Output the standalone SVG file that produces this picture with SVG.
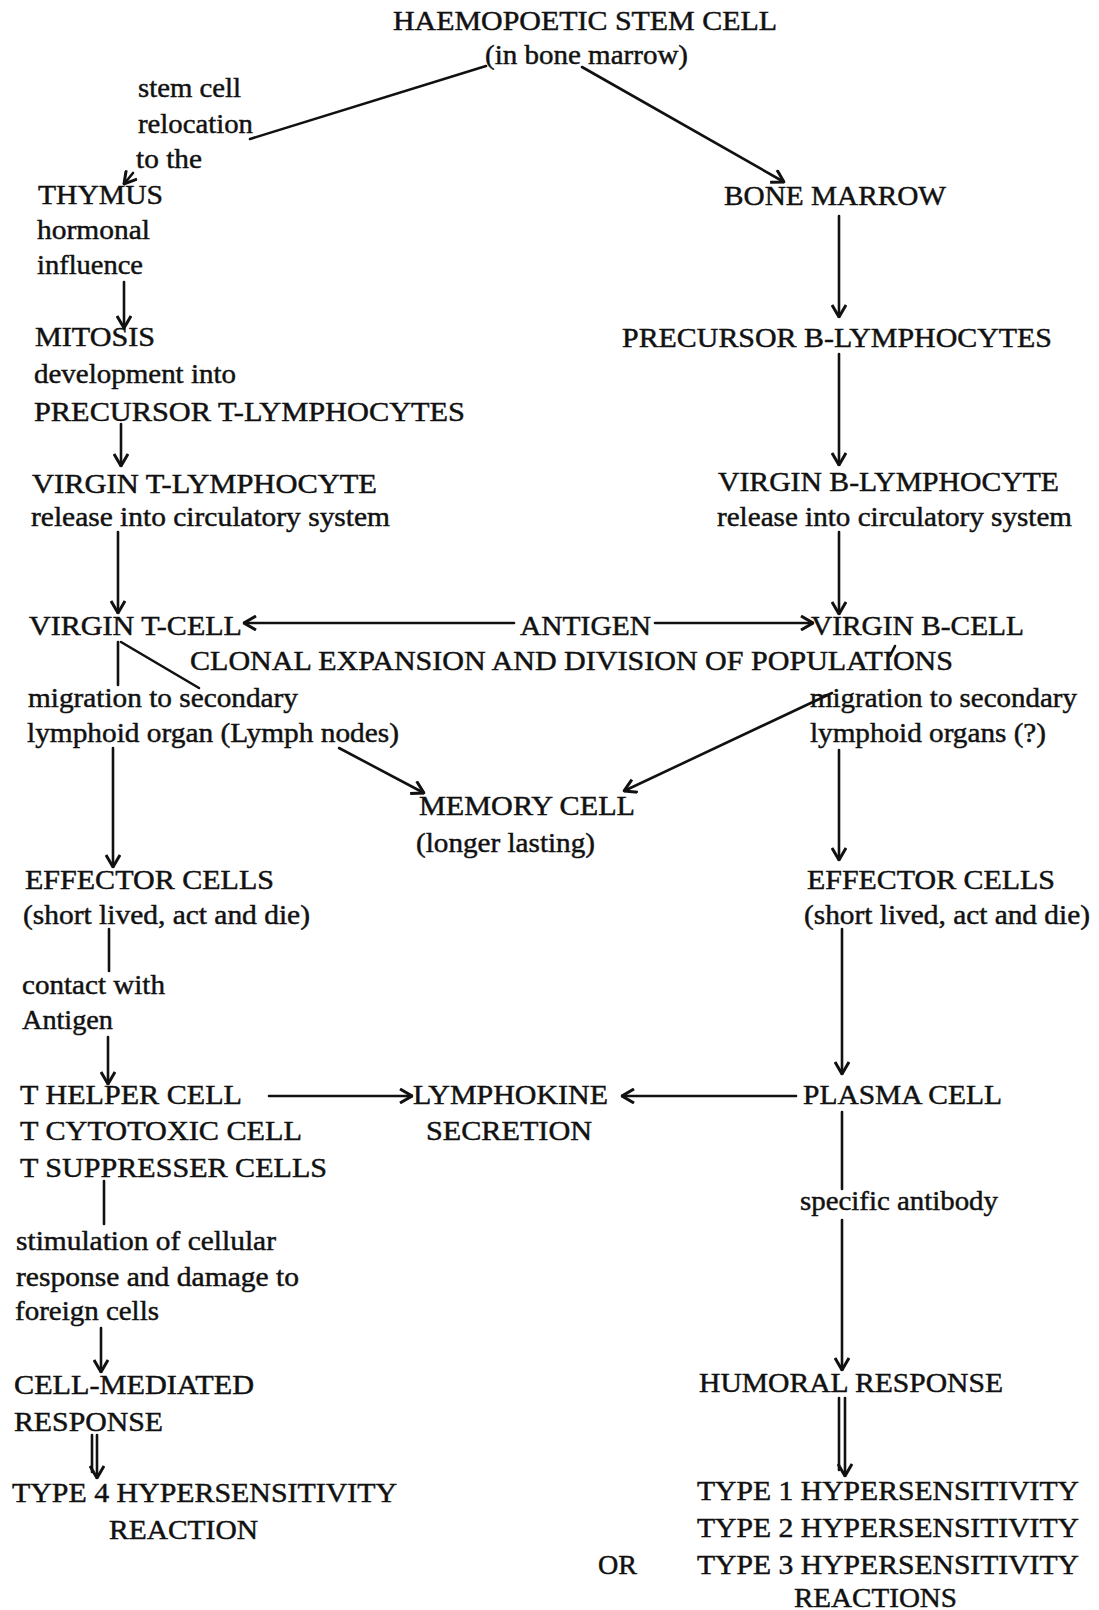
<svg xmlns="http://www.w3.org/2000/svg" width="1099" height="1610" viewBox="0 0 1099 1610">
<style>
text{font-family:"Liberation Serif","Times New Roman",serif;font-size:27px;fill:#111;stroke:#111;stroke-width:0.45}
.c{fill:none;stroke:#111;stroke-width:2.6;stroke-linecap:round}
.a{marker-end:url(#ah)}
</style>
<defs>
<marker id="ah" viewBox="0 0 14 16" refX="13" refY="8" markerWidth="14" markerHeight="16" markerUnits="userSpaceOnUse" orient="auto">
<path d="M1,1 L13,8 L1,15" fill="none" stroke="#111" stroke-width="3" stroke-linejoin="miter"/>
</marker>
</defs>
<rect width="1099" height="1610" fill="#fff"/>
<g id="connectors">
<path class="c" d="M486,66 L250,139"/>
<path class="c a" d="M133,173 L124,184"/>
<path class="c a" d="M582,67 L784,182"/>
<path class="c a" d="M124,282 V328"/>
<path class="c a" d="M121,424 V466"/>
<path class="c a" d="M118,532 V613"/>
<path class="c" d="M118,642 V685"/>
<path class="c" d="M121,642 L199,688"/>
<path class="c a" d="M113,748 V867"/>
<path class="c a" d="M339,748 L424,793"/>
<path class="c a" d="M514,623 H244"/>
<path class="c a" d="M655,623 H813"/>
<path class="c a" d="M839,216 V317"/>
<path class="c a" d="M839,354 V465"/>
<path class="c a" d="M839,532 V614"/>
<path class="c" d="M890,656 L895,646"/>
<path class="c a" d="M832,693 L624,791"/>
<path class="c a" d="M839,750 V860"/>
<path class="c" d="M109,929 V971"/>
<path class="c a" d="M108,1037 V1084"/>
<path class="c a" d="M269,1096 H412"/>
<path class="c a" d="M796,1096 H622"/>
<path class="c a" d="M842,929 V1074"/>
<path class="c" d="M104,1181 V1224"/>
<path class="c a" d="M101,1328 V1372"/>
<path class="c" d="M842,1112 V1189"/>
<path class="c a" d="M842,1220 V1370"/>
<path class="c" d="M839,1398 V1470"/>
<path class="c a" d="M845,1398 V1476"/>
<path class="c" d="M92,1435 V1472"/>
<path class="c a" d="M97,1435 V1478"/>
</g>
<g id="n_stem">
<text x="393" y="30" textLength="384" lengthAdjust="spacingAndGlyphs">HAEMOPOETIC STEM CELL</text>
<text x="485" y="64" textLength="203" lengthAdjust="spacingAndGlyphs">(in bone marrow)</text>
</g>
<g id="l_relocation">
<text x="138" y="97" textLength="103" lengthAdjust="spacingAndGlyphs">stem cell</text>
<text x="138" y="133" textLength="115" lengthAdjust="spacingAndGlyphs">relocation</text>
<text x="136" y="168" textLength="66" lengthAdjust="spacingAndGlyphs">to the</text>
</g>
<g id="n_thymus">
<text x="38" y="204" textLength="125" lengthAdjust="spacingAndGlyphs">THYMUS</text>
<text x="37" y="239" textLength="113" lengthAdjust="spacingAndGlyphs">hormonal</text>
<text x="37" y="274" textLength="106" lengthAdjust="spacingAndGlyphs">influence</text>
</g>
<g id="n_mitosis">
<text x="35" y="346" textLength="120" lengthAdjust="spacingAndGlyphs">MITOSIS</text>
<text x="34" y="383" textLength="202" lengthAdjust="spacingAndGlyphs">development into</text>
<text x="34" y="421" textLength="431" lengthAdjust="spacingAndGlyphs">PRECURSOR T-LYMPHOCYTES</text>
</g>
<g id="n_virgin_t_lymph">
<text x="32" y="493" textLength="345" lengthAdjust="spacingAndGlyphs">VIRGIN T-LYMPHOCYTE</text>
<text x="31" y="526" textLength="359" lengthAdjust="spacingAndGlyphs">release into circulatory system</text>
</g>
<g id="n_bone_marrow">
<text x="724" y="205" textLength="222" lengthAdjust="spacingAndGlyphs">BONE MARROW</text>
</g>
<g id="n_precursor_b">
<text x="622" y="347" textLength="430" lengthAdjust="spacingAndGlyphs">PRECURSOR B-LYMPHOCYTES</text>
</g>
<g id="n_virgin_b_lymph">
<text x="718" y="491" textLength="341" lengthAdjust="spacingAndGlyphs">VIRGIN B-LYMPHOCYTE</text>
<text x="717" y="526" textLength="355" lengthAdjust="spacingAndGlyphs">release into circulatory system</text>
</g>
<g id="n_virgin_t_cell">
<text x="29" y="635" textLength="213" lengthAdjust="spacingAndGlyphs">VIRGIN T-CELL</text>
</g>
<g id="n_antigen">
<text x="520" y="635" textLength="131" lengthAdjust="spacingAndGlyphs">ANTIGEN</text>
</g>
<g id="n_virgin_b_cell">
<text x="811" y="635" textLength="213" lengthAdjust="spacingAndGlyphs">VIRGIN B-CELL</text>
</g>
<g id="l_clonal">
<text x="190" y="670" textLength="763" lengthAdjust="spacingAndGlyphs">CLONAL EXPANSION AND DIVISION OF POPULATIONS</text>
</g>
<g id="l_migration_t">
<text x="28" y="707" textLength="270" lengthAdjust="spacingAndGlyphs">migration to secondary</text>
<text x="27" y="742" textLength="372" lengthAdjust="spacingAndGlyphs">lymphoid organ (Lymph nodes)</text>
</g>
<g id="l_migration_b">
<text x="810" y="707" textLength="267" lengthAdjust="spacingAndGlyphs">migration to secondary</text>
<text x="810" y="742" textLength="236" lengthAdjust="spacingAndGlyphs">lymphoid organs (?)</text>
</g>
<g id="n_memory">
<text x="419" y="815" textLength="216" lengthAdjust="spacingAndGlyphs">MEMORY CELL</text>
<text x="416" y="852" textLength="179" lengthAdjust="spacingAndGlyphs">(longer lasting)</text>
</g>
<g id="n_effector_t">
<text x="25" y="889" textLength="249" lengthAdjust="spacingAndGlyphs">EFFECTOR CELLS</text>
<text x="23" y="924" textLength="287" lengthAdjust="spacingAndGlyphs">(short lived, act and die)</text>
</g>
<g id="n_effector_b">
<text x="807" y="889" textLength="248" lengthAdjust="spacingAndGlyphs">EFFECTOR CELLS</text>
<text x="804" y="924" textLength="286" lengthAdjust="spacingAndGlyphs">(short lived, act and die)</text>
</g>
<g id="l_contact">
<text x="22" y="994" textLength="143" lengthAdjust="spacingAndGlyphs">contact with</text>
<text x="22" y="1029" textLength="91" lengthAdjust="spacingAndGlyphs">Antigen</text>
</g>
<g id="n_t_cells">
<text x="20" y="1104" textLength="222" lengthAdjust="spacingAndGlyphs">T HELPER CELL</text>
<text x="20" y="1140" textLength="282" lengthAdjust="spacingAndGlyphs">T CYTOTOXIC CELL</text>
<text x="20" y="1177" textLength="307" lengthAdjust="spacingAndGlyphs">T SUPPRESSER CELLS</text>
</g>
<g id="n_lymphokine">
<text x="413" y="1104" textLength="195" lengthAdjust="spacingAndGlyphs">LYMPHOKINE</text>
<text x="426" y="1140" textLength="166" lengthAdjust="spacingAndGlyphs">SECRETION</text>
</g>
<g id="n_plasma">
<text x="803" y="1104" textLength="199" lengthAdjust="spacingAndGlyphs">PLASMA CELL</text>
</g>
<g id="l_antibody">
<text x="800" y="1210" textLength="198" lengthAdjust="spacingAndGlyphs">specific antibody</text>
</g>
<g id="l_stimulation">
<text x="16" y="1250" textLength="260" lengthAdjust="spacingAndGlyphs">stimulation of cellular</text>
<text x="16" y="1286" textLength="283" lengthAdjust="spacingAndGlyphs">response and damage to</text>
<text x="15" y="1320" textLength="144" lengthAdjust="spacingAndGlyphs">foreign cells</text>
</g>
<g id="n_cell_mediated">
<text x="14" y="1394" textLength="240" lengthAdjust="spacingAndGlyphs">CELL-MEDIATED</text>
<text x="14" y="1431" textLength="149" lengthAdjust="spacingAndGlyphs">RESPONSE</text>
</g>
<g id="n_humoral">
<text x="699" y="1392" textLength="304" lengthAdjust="spacingAndGlyphs">HUMORAL RESPONSE</text>
</g>
<g id="n_type4">
<text x="12" y="1502" textLength="385" lengthAdjust="spacingAndGlyphs">TYPE 4 HYPERSENSITIVITY</text>
<text x="109" y="1539" textLength="149" lengthAdjust="spacingAndGlyphs">REACTION</text>
</g>
<g id="n_type123">
<text x="697" y="1500" textLength="382" lengthAdjust="spacingAndGlyphs">TYPE 1 HYPERSENSITIVITY</text>
<text x="697" y="1537" textLength="382" lengthAdjust="spacingAndGlyphs">TYPE 2 HYPERSENSITIVITY</text>
<text x="598" y="1574" textLength="39" lengthAdjust="spacingAndGlyphs">OR</text>
<text x="697" y="1574" textLength="382" lengthAdjust="spacingAndGlyphs">TYPE 3 HYPERSENSITIVITY</text>
<text x="794" y="1607" textLength="163" lengthAdjust="spacingAndGlyphs">REACTIONS</text>
</g>
</svg>
